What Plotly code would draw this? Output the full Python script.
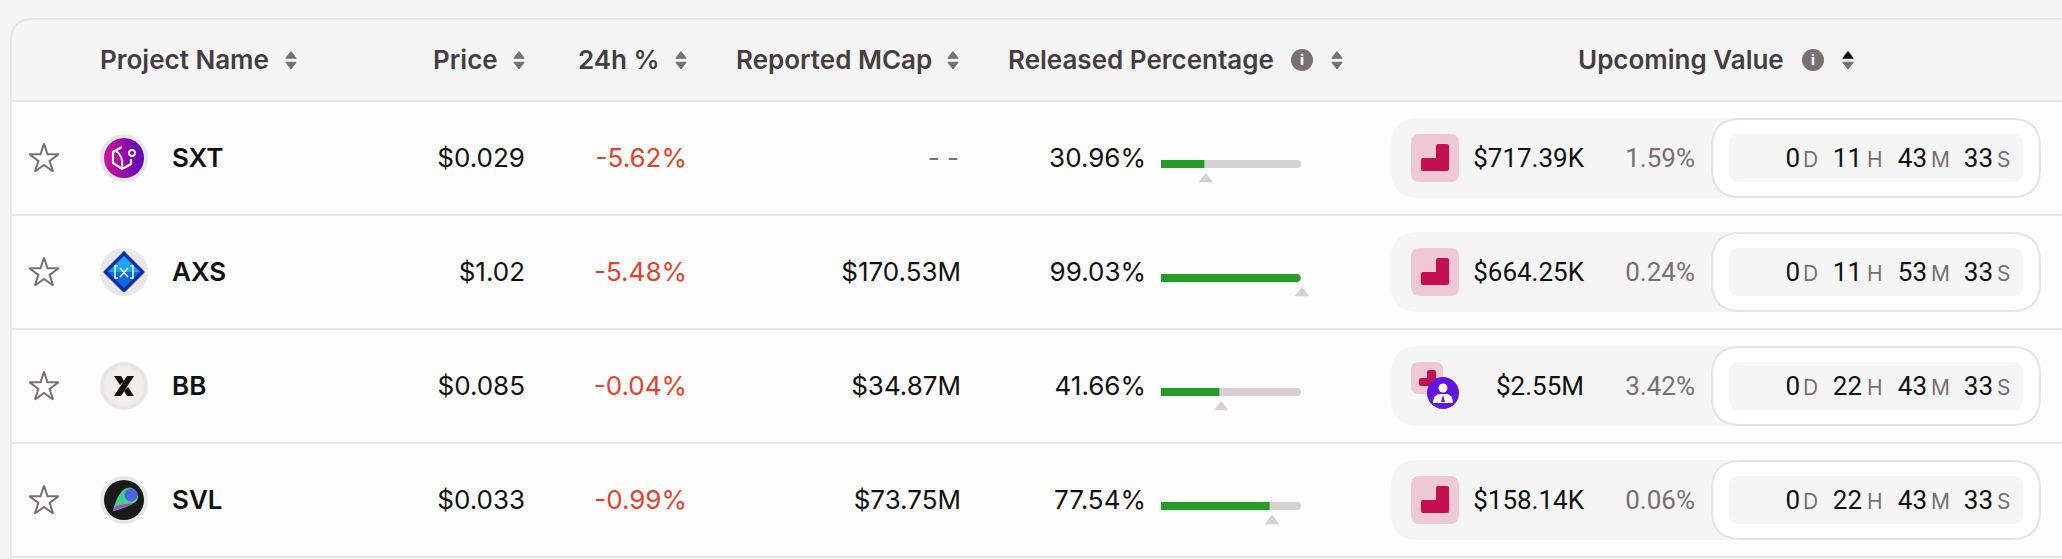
import plotly.graph_objects as go

projects = ["SXT", "AXS", "BB", "SVL"]
prices = ["$0.029", "$1.02", "$0.085", "$0.033"]
changes = ["-5.62%", "-5.48%", "-0.04%", "-0.99%"]
mcaps = ["- -", "$170.53M", "$34.87M", "$73.75M"]
released = [30.96, 99.03, 41.66, 77.54]
next_release = [32.0, 100.7, 43.0, 79.3]
upcoming_values = ["$717.39K", "$664.25K", "$2.55M", "$158.14K"]
upcoming_pcts = ["1.59%", "0.24%", "3.42%", "0.06%"]
days = ["0", "0", "0", "0"]
hours = ["11", "11", "22", "22"]
minutes = ["43", "53", "43", "43"]
seconds = ["33", "33", "33", "33"]

headers = ["Project Name", "Price", "24h %", "Reported MCap", "Released Percentage", "Upcoming Value"]
header_x = [100, 433, 578, 736, 1008, 1578]
sort_x = [291, 519, 681, 953, 1337, 1848]
info_x = [1302, 1813]

W, H = 2062, 559
ROW_Y = [158, 272, 386, 500]
SEPS = [101, 215, 329, 443, 557]
FONT = "Inter"
TEXT_DY = 2.5
INK = "#111111"
HEAD = "#463D40"
MUTED = "#7A6F73"
LINE = "#E6E6E6"
PANEL = "#F5F5F5"
TRACK = "#D5D0D2"


def rrect(x0, y0, x1, y1, r):
    return (f"M{x0+r},{y0} L{x1-r},{y0} Q{x1},{y0} {x1},{y0+r} L{x1},{y1-r} Q{x1},{y1} {x1-r},{y1} "
            f"L{x0+r},{y1} Q{x0},{y1} {x0},{y1-r} L{x0},{y0+r} Q{x0},{y0} {x0+r},{y0} Z")


def shape_path(path, fill=None, line=None, width=0, layer="below"):
    return dict(type="path", path=path, xref="x", yref="y", layer=layer,
                fillcolor=fill or "rgba(0,0,0,0)",
                line=dict(color=line or "rgba(0,0,0,0)", width=width))


def circle(cx, cy, r, fill=None, line=None, width=0, layer="below"):
    return dict(type="circle", xref="x", yref="y", x0=cx-r, x1=cx+r, y0=cy-r, y1=cy+r, layer=layer,
                fillcolor=fill or "rgba(0,0,0,0)",
                line=dict(color=line or "rgba(0,0,0,0)", width=width))


def step_mark(x0, x1, xm, y0, ym, y1, fill, layer="below"):
    # the crimson stepped block in the pink badge
    r = 2
    p = (f"M{xm+r},{y0} L{x1-r},{y0} Q{x1},{y0} {x1},{y0+r} L{x1},{y1-r} Q{x1},{y1} {x1-r},{y1} "
         f"L{x0+r},{y1} Q{x0},{y1} {x0},{y1-r} L{x0},{ym+r} Q{x0},{ym} {x0+r},{ym} "
         f"L{xm},{ym} L{xm},{y0+r} Q{xm},{y0} {xm+r},{y0} Z")
    return shape_path(p, fill, layer=layer)


shapes = []
# card and rows
shapes.append(shape_path(f"M11,{H+5} L11,41 Q11,19 33,19 L{W+5},19 L{W+5},{H+5} Z", PANEL, LINE, 2))
shapes.append(dict(type="rect", xref="x", yref="y", x0=12, x1=W+5, y0=102, y1=H+5, layer="below",
                   fillcolor="#FDFDFD", line=dict(width=0)))
for s in SEPS:
    shapes.append(dict(type="line", xref="x", yref="y", x0=12, x1=W+5, y0=s, y1=s, layer="below",
                       line=dict(color=LINE, width=2)))

for i, y in enumerate(ROW_Y):
    # coin ring
    shapes.append(circle(124, y, 24, "#E8E7E7"))
    # upcoming value pills
    shapes.append(shape_path(rrect(1391, y-40, 1770, y+40, 28), PANEL))
    shapes.append(shape_path(rrect(1712, y-39, 2040, y+39, 28), "#FFFFFF", "#E4E4E4", 2))
    shapes.append(shape_path(rrect(1729, y-24, 2023, y+24, 11), PANEL))
    if i == 2:
        shapes.append(shape_path(rrect(1411, y-24, 1443, y+8, 8), "#EEC8D4"))
        shapes.append(step_mark(1419, 1436, 1427, y-16, y-8, y, "#C4104F"))
    else:
        shapes.append(shape_path(rrect(1411, y-24, 1459, y+24, 9), "#EEC8D4"))
        shapes.append(step_mark(1421, 1449, 1436, y-14, y, y+13, "#C4104F"))

# SXT glyph
y = ROW_Y[0]
shapes.append(shape_path(f"M122,{y-11} L113,{y-6} L113,{y+5} L122,{y+11} L131,{y+6} L131,{y+1}", None, "#FFFFFF", 2.2, "above"))
shapes.append(shape_path(f"M116,{y-7} Q124,{y-2} 122,{y+10}", None, "#FFFFFF", 2, "above"))
shapes.append(circle(132, y-5, 3, None, "#FFFFFF", 1.8, "above"))
# AXS glyph
y = ROW_Y[1]
shapes.append(shape_path(f"M124,{y-21} Q125,{y-21} 126,{y-19} L144,{y-1} Q145,{y} 144,{y+1} L126,{y+19} Q124,{y+21} 122,{y+19} L104,{y+1} Q103,{y} 104,{y-1} L122,{y-19} Q123,{y-21} 124,{y-21} Z", "#0B2FA8", layer="above"))
shapes.append(shape_path(f"M124,{y-16} L140,{y} L124,{y+16} L108,{y} Z", "#1167E0", layer="above"))
shapes.append(shape_path(f"M124,{y-16} L140,{y} L108,{y} Z", "#1FA4EC", layer="above"))
shapes.append(shape_path(f"M118,{y-6} L115,{y-6} L115,{y+6} L118,{y+6} M120,{y-4} L128,{y+5} M128,{y-4} L120,{y+5} M130,{y-6} L133,{y-6} L133,{y+6} L130,{y+6}", None, "#DDF4FF", 1.6, "above"))
# BB glyph
y = ROW_Y[2]
shapes.append(shape_path(f"M127,{y-10} L134,{y-10} L121,{y+10} L114,{y+10} Z", "#111111", layer="above"))
shapes.append(shape_path(f"M114,{y-10} L121,{y-10} L124,{y-5} L120,{y-1} Z", "#111111", layer="above"))
shapes.append(shape_path(f"M128,{y+1} L134,{y+10} L127,{y+10} L124,{y+5} Z", "#111111", layer="above"))
# SVL glyph
y = ROW_Y[3]
shapes.append(shape_path(f"M113,{y+11} Q116,{y-2} 122,{y-9} Q130,{y-16} 136,{y-9} Q141,{y-1} 134,{y+3} Q124,{y+9} 113,{y+11} Z", "#3FD08A", layer="above"))
shapes.append(circle(131, y-5, 6.5, "#4C63E2", layer="above"))
shapes.append(shape_path(f"M113,{y+11} Q123,{y+8} 134,{y+3} Q124,{y+4} 116,{y+6} Z", "#B845C0", layer="above"))
# person badge on the BB row
y = ROW_Y[2]
shapes.append(circle(1443, y+7, 16, "#6015E0", layer="above"))
shapes.append(circle(1443, y+2, 4.5, "#FFFFFF", layer="above"))
shapes.append(shape_path(f"M1433,{y+17} Q1433,{y+9} 1439,{y+8} L1447,{y+8} Q1453,{y+9} 1453,{y+17} Z", "#FFFFFF", layer="above"))
shapes.append(shape_path(f"M1443,{y+9} L1441,{y+16} L1445,{y+16} Z", "#6015E0", layer="above"))

fig = go.Figure()


def add_text(xs, ys, labels, pos, color, size, weight=400, family=FONT):
    fig.add_trace(go.Scatter(x=xs, y=[v + TEXT_DY for v in ys], text=labels, mode="text", textposition=pos,
                             cliponaxis=False, textfont=dict(family=family, size=size, color=color, weight=weight),
                             hoverinfo="skip", showlegend=False))


def add_marker(xs, ys, symbol, size, color, line_w=0, line_c=None, xaxis="x", gradient=None):
    marker = dict(symbol=symbol, size=size, color=color, line=dict(width=line_w, color=line_c or color))
    if gradient:
        marker["gradient"] = gradient
    fig.add_trace(go.Scatter(x=xs, y=ys, mode="markers", marker=marker, xaxis=xaxis, cliponaxis=False,
                             hoverinfo="skip", showlegend=False))


# coin faces
add_marker([124], [ROW_Y[0]], "circle", 40, "#D0119A", gradient=dict(type="horizontal", color="#5A05B8"))
add_marker([124], [ROW_Y[2]], "circle", 40, "#F1EFEA")
add_marker([124], [ROW_Y[3]], "circle", 40, "#1A1A1A")

# stars
add_marker([44] * 4, [v + 1 for v in ROW_Y], "star-open", 22, MUTED, 2)

# header
add_text(header_x, [60] * 6, headers, "middle right", HEAD, 26, 600)
add_marker(sort_x[:5], [56] * 5, "triangle-up", 9, MUTED, 1)
add_marker(sort_x[5:], [56], "triangle-up", 9, "#111111", 1)
add_marker(sort_x, [64.5] * 6, "triangle-down", 9, MUTED, 1)
add_marker(info_x, [60, 60], "circle", 22, MUTED)
add_text(info_x, [59, 59], ["i", "i"], "middle center", "#FFFFFF", 14, 800)

# table body
add_text([172] * 4, ROW_Y, projects, "middle right", INK, 26, 600)
add_text([525] * 4, ROW_Y, prices, "middle left", INK, 26)
add_text([687] * 4, ROW_Y, changes, "middle left", "#E0432F", 26)
add_text([961] * 3, ROW_Y[1:], mcaps[1:], "middle left", INK, 26)
add_text([959], ROW_Y[:1], mcaps[:1], "middle left", MUTED, 26)
add_text([1146] * 4, ROW_Y, [f"{v:.2f}%" for v in released], "middle left", INK, 26)
add_text([1584] * 4, ROW_Y, upcoming_values, "middle left", INK, 26, 400, "Roboto")
add_text([1695] * 4, ROW_Y, upcoming_pcts, "middle left", MUTED, 26, 400, "Roboto")

# countdown
for numbers, unit, right, left in [(days, "D", 1800, 1803), (hours, "H", 1862, 1867),
                                   (minutes, "M", 1927, 1931), (seconds, "S", 1993, 1997)]:
    add_text([right] * 4, ROW_Y, numbers, "middle left", INK, 26, 400, "Roboto")
    add_text([left] * 4, [v + 1 for v in ROW_Y], [unit] * 4, "middle right", MUTED, 21)

# release bars, on their own axis so the widths come from the percentages
bar_y = [v + 6 for v in ROW_Y]
fig.add_trace(go.Bar(x=[100] * 4, y=bar_y, orientation="h", width=8, marker=dict(color=TRACK, line=dict(width=0)),
                     xaxis="x2", hoverinfo="skip", showlegend=False))
fig.add_trace(go.Bar(x=released, y=bar_y, orientation="h", width=8, marker=dict(color="#279B28", line=dict(width=0)),
                     xaxis="x2", hoverinfo="skip", showlegend=False))
add_marker(next_release, [v + 21 for v in ROW_Y], "triangle-up", 11, TRACK, 1, xaxis="x2")

fig.update_layout(
    width=W, height=H, margin=dict(l=0, r=0, t=0, b=0),
    paper_bgcolor=PANEL, plot_bgcolor="rgba(0,0,0,0)",
    barmode="overlay", barcornerradius=4, showlegend=False,
    xaxis=dict(range=[0, W], visible=False, fixedrange=True),
    yaxis=dict(range=[H, 0], visible=False, fixedrange=True),
    xaxis2=dict(domain=[1161 / W, 1315 / W], range=[0, 110], anchor="y", visible=False, fixedrange=True),
    shapes=shapes,
)

fig.write_html("out.html", config={"displayModeBar": False},
               post_script="document.body.style.margin='0';document.body.style.overflow='hidden';")
